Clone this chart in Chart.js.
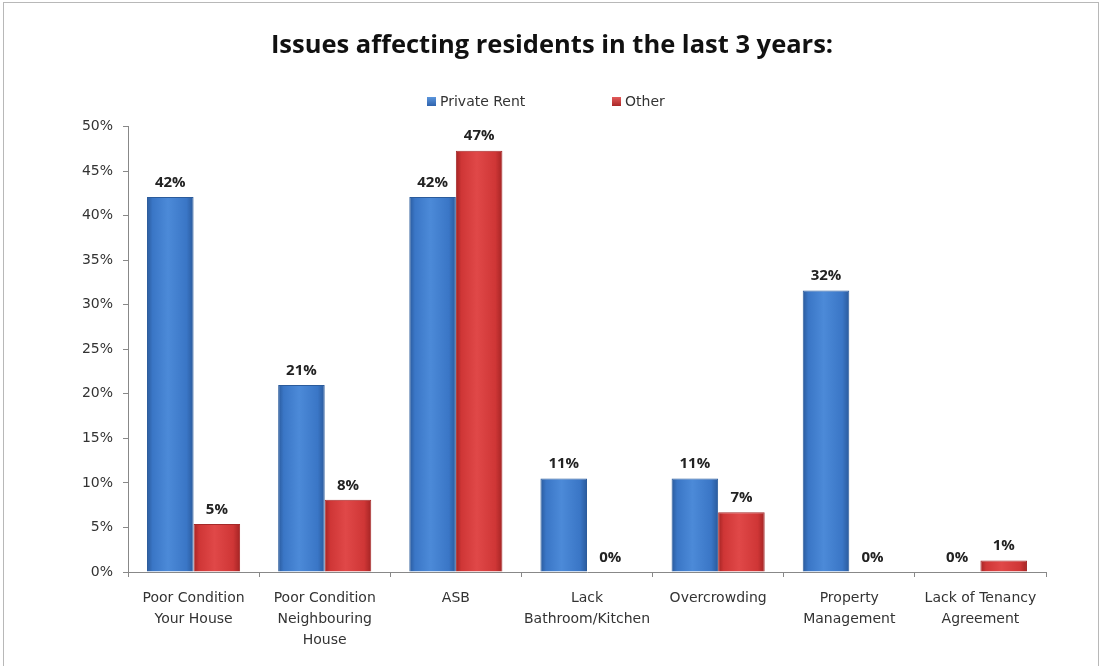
<!DOCTYPE html>
<html lang="en">
<head>
  <meta charset="UTF-8" />
  <title>Issues affecting residents</title>
  <script src="https://cdn.jsdelivr.net/npm/chart.js"></script>
  <style>
    body { margin: 0; background: #fff; }
    #wrap { position: absolute; left: 3px; top: 2px; width: 1094px; height: 670px; border: 1px solid #b8b8b8; }
    #legend { position: absolute; top: 93px; left: 0; font: 14px "DejaVu Sans", sans-serif; color: #333; }
    #legend span { position: absolute; white-space: nowrap; }
    #legend i { display: inline-block; width: 9px; height: 9px; margin-right: 4px; vertical-align: 0px; }
  </style>
</head>
<body>
  <div id="wrap"><canvas id="issuesChart" width="1094" height="670"></canvas></div>
  <div id="legend">
    <span style="left:427px"><i style="background:linear-gradient(#5b95dc,#2f63ad)"></i>Private Rent</span>
    <span style="left:612px"><i style="background:linear-gradient(#e35a5a,#a92727)"></i>Other</span>
  </div>

  <script>
    // values (percent)
    const categories = [
      ['Poor Condition', 'Your House'],
      ['Poor Condition', 'Neighbouring', 'House'],
      'ASB',
      ['Lack', 'Bathroom/Kitchen'],
      'Overcrowding',
      ['Property', 'Management'],
      ['Lack of Tenancy', 'Agreement']
    ];
    const privateRent = [42.1, 21.0, 42.1, 10.5, 10.5, 31.6, 0];
    const other = [5.4, 8.1, 47.3, 0, 6.7, 0, 1.3];
    const yTicks = [0, 5, 10, 15, 20, 25, 30, 35, 40, 45, 50];

    // horizontal shading like the excel bevel bars
    function barShade(edge, mid, light) {
      return function(c) {
        const el = c.element;
        if (!el || el.x === undefined || !el.width) return mid;
        const g = c.chart.ctx.createLinearGradient(el.x - el.width / 2, 0, el.x + el.width / 2, 0);
        g.addColorStop(0, edge);
        g.addColorStop(0.12, mid);
        g.addColorStop(0.45, light);
        g.addColorStop(0.85, mid);
        g.addColorStop(1, edge);
        return g;
      };
    }

    // bold % labels above each bar
    const valueLabels = {
      id: 'valueLabels',
      afterDatasetsDraw(chart) {
        const ctx = chart.ctx;
        ctx.save();
        ctx.font = 'bold 15px "Open Sans", sans-serif';
        ctx.fillStyle = '#222';
        ctx.textAlign = 'center';
        ctx.textBaseline = 'bottom';
        chart.data.datasets.forEach((ds, i) => {
          chart.getDatasetMeta(i).data.forEach((bar, j) => {
            ctx.fillText(Math.round(ds.data[j]) + '%', bar.x, bar.y - 7);
          });
        });
        ctx.restore();
      }
    };

    const ctx = document.getElementById('issuesChart').getContext('2d');
    const chart = new Chart(ctx, {
      type: 'bar',
      data: {
        labels: categories,
        datasets: [
          {
            label: 'Private Rent',
            data: privateRent,
            backgroundColor: barShade('#2a5a9c', '#3a76c6', '#4c8ad8'),
            borderColor: '#2b5b9b',
            borderWidth: 1
          },
          {
            label: 'Other',
            data: other,
            backgroundColor: barShade('#a42424', '#cf3636', '#e04848'),
            borderColor: '#a52a2a',
            borderWidth: 1
          }
        ]
      },
      options: {
        responsive: false,
        animation: false,
        layout: { padding: { left: 54, right: 52, top: 0, bottom: 11 } },
        datasets: { bar: { categoryPercentage: 0.71, barPercentage: 1 } },
        plugins: {
          title: {
            display: true,
            text: 'Issues affecting residents in the last 3 years:',
            color: '#111',
            font: { family: '"Open Sans", sans-serif', size: 25.5, weight: 'bold', lineHeight: 1.2 },
            padding: { top: 27, bottom: 66 }
          },
          legend: { display: false },
          tooltip: { enabled: false }
        },
        scales: {
          x: {
            grid: { display: true, drawOnChartArea: false, offset: true, color: '#888', tickLength: 5 },
            border: { color: '#888' },
            ticks: {
              color: '#333',
              font: { family: '"DejaVu Sans", sans-serif', size: 14, lineHeight: 1.5 },
              maxRotation: 0,
              autoSkip: false,
              padding: 11
            }
          },
          y: {
            min: 0,
            max: 50,
            afterBuildTicks(axis) { axis.ticks = yTicks.map(v => ({ value: v })); },
            afterFit(axis) { axis.width = 70; },
            grid: { display: true, drawOnChartArea: false, color: '#888', tickLength: 5 },
            border: { color: '#888' },
            ticks: {
              color: '#333',
              font: { family: '"DejaVu Sans", sans-serif', size: 14 },
              padding: 10,
              callback: v => v + '%'
            }
          }
        }
      },
      plugins: [valueLabels]
    });
    // second pass so the shading sees each bar's position
    chart.update();
  </script>
</body>
</html>
